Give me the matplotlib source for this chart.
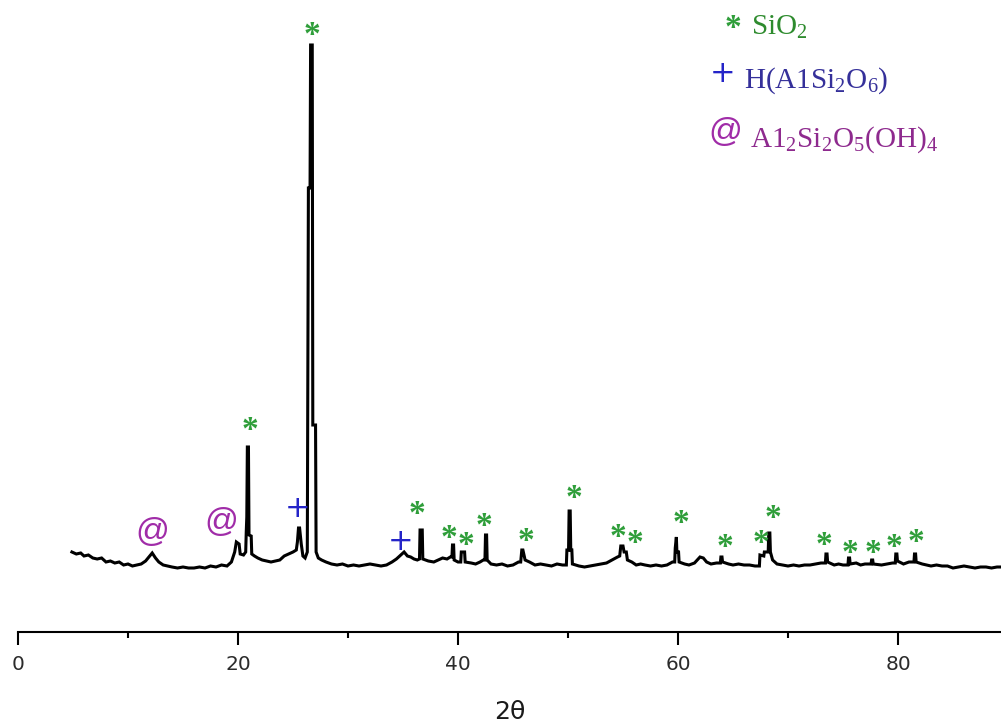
import matplotlib
matplotlib.use("Agg")
import matplotlib.pyplot as plt
from matplotlib.ticker import MultipleLocator

# ---------------- data ----------------
two_theta = [4.9, 5.3, 5.7, 6.0, 6.4, 6.8, 7.2, 7.6, 8.0, 8.4, 8.8, 9.2, 9.6, 10.0, 10.4, 10.8,
             11.2, 11.6, 11.9, 12.2, 12.5, 12.8, 13.2, 13.6, 14.0, 14.5, 15.0, 15.5, 16.0, 16.5,
             17.0, 17.5, 18.0, 18.5, 19.0, 19.4, 19.7, 19.85, 20.1, 20.2, 20.5, 20.7, 20.75, 20.8,
             20.85, 20.95, 21.0, 21.2, 21.25, 21.5, 21.8, 22.2, 22.6, 23.0, 23.4, 23.8, 24.2, 24.6,
             25.0, 25.3, 25.4, 25.5, 25.6, 25.75, 25.9, 26.1, 26.3, 26.4, 26.55, 26.6, 26.75, 26.8,
             27.05, 27.1, 27.3, 27.6, 28.0, 28.5, 29.0, 29.5, 30.0, 30.5, 31.0, 31.5, 32.0, 32.5,
             33.0, 33.5, 34.0, 34.4, 34.8, 35.1, 35.4, 35.7, 36.0, 36.3, 36.5, 36.55, 36.75, 36.8,
             37.3, 37.8, 38.2, 38.6, 39.0, 39.3, 39.45, 39.5, 39.6, 39.65, 40.0, 40.25, 40.3, 40.6,
             40.65, 41.2, 41.6, 42.0, 42.3, 42.45, 42.5, 42.6, 42.65, 43.0, 43.5, 44.0, 44.5, 45.0,
             45.5, 45.7, 45.8, 45.9, 46.1, 46.5, 47.0, 47.5, 48.0, 48.5, 49.0, 49.5, 49.85, 49.9,
             50.05, 50.1, 50.2, 50.25, 50.35, 50.4, 51.0, 51.5, 52.0, 52.5, 53.0, 53.5, 54.0, 54.5,
             54.7, 54.8, 55.0, 55.1, 55.3, 55.4, 55.8, 56.2, 56.6, 57.0, 57.5, 58.0, 58.5, 59.0,
             59.5, 59.7, 59.75, 59.85, 59.9, 60.05, 60.1, 60.6, 61.0, 61.5, 62.0, 62.3, 62.6, 63.0,
             63.5, 63.85, 63.9, 64.0, 64.05, 64.6, 65.0, 65.5, 66.0, 66.5, 67.0, 67.4, 67.45, 67.8,
             67.85, 68.2, 68.25, 68.35, 68.4, 68.6, 69.0, 69.5, 70.0, 70.5, 71.0, 71.5, 72.0, 72.5,
             73.0, 73.4, 73.45, 73.55, 73.6, 74.2, 74.6, 75.0, 75.45, 75.5, 75.6, 75.65, 76.2, 76.6,
             77.0, 77.55, 77.6, 77.7, 77.75, 78.5, 79.0, 79.5, 79.75, 79.8, 79.9, 79.95, 80.5, 81.0,
             81.45, 81.5, 81.6, 81.65, 82.2, 82.6, 83.0, 83.5, 84.0, 84.5, 85.0, 85.5, 86.0, 86.5,
             87.0, 87.5, 88.0, 88.5, 89.0, 89.4]
intensity = [80, 78, 79, 76, 77, 74, 73, 74, 70, 71, 69, 70, 67, 68, 66, 67,
             68, 71, 75, 79, 74, 70, 67, 66, 65, 64, 65, 64, 64, 65,
             64, 66, 65, 67, 66, 70, 80, 90, 88, 78, 77, 80, 100, 115,
             185, 185, 97, 96, 78, 76, 74, 72, 71, 70, 71, 72, 76, 78,
             80, 82, 90, 104, 104, 88, 76, 74, 80, 444, 444, 587, 587, 207,
             207, 80, 74, 72, 70, 68, 67, 68, 66, 67, 66, 67, 68, 67,
             66, 67, 70, 73, 77, 80, 76, 75, 73, 72, 73, 102, 102, 73,
             71, 70, 72, 74, 73, 75, 75, 87, 87, 72, 70, 70, 80, 80,
             70, 69, 68, 70, 72, 72, 97, 97, 72, 68, 67, 68, 66, 67,
             70, 70, 82, 82, 72, 70, 67, 68, 67, 66, 68, 67, 67, 82,
             82, 121, 121, 82, 82, 68, 66, 65, 66, 67, 68, 69, 72, 75,
             76, 86, 86, 80, 80, 72, 70, 67, 68, 67, 66, 67, 66, 67,
             70, 70, 84, 95, 80, 80, 70, 68, 67, 69, 75, 74, 70, 68,
             69, 69, 75, 75, 70, 68, 67, 68, 67, 67, 66, 66, 77, 76,
             80, 80, 99, 99, 80, 72, 68, 67, 66, 67, 66, 67, 67, 68,
             69, 69, 78, 78, 70, 67, 68, 67, 67, 74, 74, 68, 69, 67,
             68, 68, 72, 72, 68, 67, 68, 69, 69, 78, 78, 71, 68, 70,
             70, 78, 78, 70, 68, 67, 66, 67, 66, 66, 64, 65, 66, 65,
             64, 65, 65, 64, 65, 65]

# peak markers: SiO2 (*), H(AlSi2O6) (+), Al2Si2O5(OH)4 (@)
sio2_x = [21.1, 26.7, 36.3, 39.2, 40.7, 42.4, 46.2, 50.5, 54.5, 56.1, 60.3, 64.3, 67.5,
          68.6, 73.3, 75.6, 77.7, 79.6, 81.6]
sio2_y = [207, 602, 123, 99, 92, 111, 96, 139, 100, 94, 114, 90, 94,
          119, 92, 84, 84, 90, 95]
hals_x = [25.4, 34.8]
hals_y = [125, 92]
kaol_x = [12.2, 18.5]
kaol_y = [100, 110]

xticks = [0, 20, 40, 60, 80]
xlabel = "2θ"
legend_lines = [("*", r"SiO$_2$"),
                ("+", r"H(A1Si$_2$O$_6$)"),
                ("@", r"A1$_2$Si$_2$O$_5$(OH)$_4$")]

# ---------------- styling ----------------
plt.rcParams['mathtext.fontset'] = 'custom'
plt.rcParams['mathtext.rm'] = 'Liberation Serif'
plt.rcParams['mathtext.it'] = 'Liberation Serif'
plt.rcParams['mathtext.bf'] = 'Liberation Serif'

GREEN = '#2f9e3a'
GREEN_TXT = '#2e8b2e'
BLUE = '#2424c8'
BLUE_TXT = '#35309a'
PURPLE = '#a02ca8'
PURPLE_TXT = '#8e2a8e'

W, H = 1001, 725
fig = plt.figure(figsize=(W / 100, H / 100), dpi=100)
ax = fig.add_axes([18 / W, 1 - 632 / H, 1 - 18 / W, 632 / H])

ax.plot(two_theta, intensity, color='black', lw=2.2, solid_joinstyle='miter')

ax.set_xlim(0, (W - 18) / 11)
ax.set_ylim(0, 632)

for s in ['top', 'right', 'left']:
    ax.spines[s].set_visible(False)
ax.spines['bottom'].set_linewidth(1.5)
ax.set_yticks([])
ax.set_xticks(xticks)
ax.xaxis.set_minor_locator(MultipleLocator(10))
ax.tick_params(axis='x', which='major', direction='out', length=9.5, width=1.5,
               pad=7, labelsize=14.5, labelcolor='#2b2b2b')
ax.tick_params(axis='x', which='minor', direction='out', length=4.5, width=1.5)
ax.set_xlabel(xlabel, fontsize=18, labelpad=19, color='#1a1a1a',
              family=['Liberation Sans Narrow', 'DejaVu Sans'])

serif = ['Liberation Serif', 'DejaVu Serif']
sans = ['Liberation Sans', 'DejaVu Sans']

def glyph(x, y, s, color, size, dy, fam=serif):
    ax.annotate(s, xy=(x, y), xytext=(0, dy), textcoords='offset points',
                ha='center', va='center', color=color, fontsize=size,
                family=fam, fontweight='bold' if s == '*' else 'normal')

for x, y in zip(sio2_x, sio2_y):
    glyph(x, y, '*', GREEN, 24, -4.3)
for x, y in zip(hals_x, hals_y):
    glyph(x, y, '+', BLUE, 22, -1, ['DejaVu Sans'])
for x, y in zip(kaol_x, kaol_y):
    glyph(x, y, '@', PURPLE, 24, 0, sans)

# legend block (text, figure pixel coords)
def ftext(xp, yp, s, color, size, fam=serif, **kw):
    fig.text(xp / W, 1 - yp / H, s, color=color, fontsize=size, family=fam, **kw)

ftext(733, 22 + 6, legend_lines[0][0], GREEN, 24, ha='center', va='center', fontweight='bold')
ftext(751, 35, legend_lines[0][1], GREEN_TXT, 21, ha='left', va='baseline')
ftext(723, 74, legend_lines[1][0], BLUE, 22, ['DejaVu Sans'], ha='center', va='center')
ftext(744, 88, legend_lines[1][1], BLUE_TXT, 21, ha='left', va='baseline')
ftext(725, 133, legend_lines[2][0], PURPLE, 24, sans, ha='center', va='center')
ftext(750, 147, legend_lines[2][1], PURPLE_TXT, 21, ha='left', va='baseline')

fig.savefig('out.png', dpi=100)
